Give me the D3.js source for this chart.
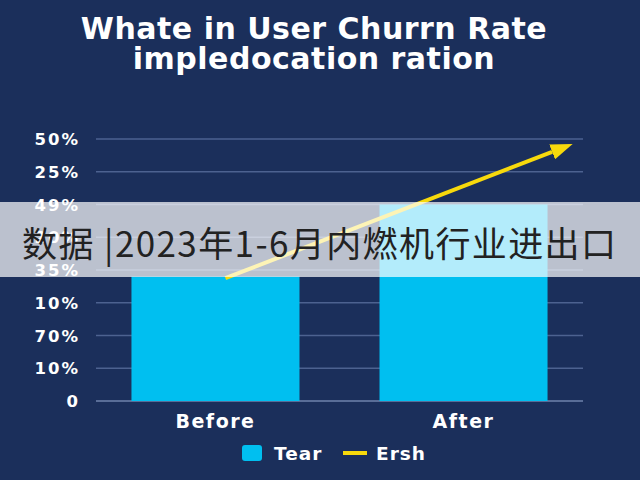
<!DOCTYPE html>
<html><head><meta charset="utf-8">
<script src="https://cdn.jsdelivr.net/npm/d3@7/dist/d3.min.js"></script>
<style>body{margin:0;background:#1b2f5b;}svg{display:block;}</style>
</head><body>
<svg id="c" width="640" height="480"></svg>
<script>
const titleLines = ["Whate in User Churrn Rate", "impledocation ration"];
const categories = ["Before", "After"];
const tearValues = [38, 60];
const tickValues = [0, 10, 20, 30, 40, 50, 60, 70, 80];
const tickLabels = ["0", "10%", "70%", "10%", "35%", "20%", "49%", "25%", "50%"];
const ershPos = [0.04, 1.44];
const ershValues = [37.5, 78.5];
const legendLabels = ["Tear", "Ersh"];
const bandText = "数据 |2023年1-6月内燃机行业进出口";

const svg = d3.select("#c");
const W = 640, H = 480;
svg.append("rect").attr("width", W).attr("height", H).attr("fill", "#1b2f5b");

const font = "'DejaVu Sans', sans-serif";
svg.selectAll("text.title").data(titleLines).enter().append("text")
  .attr("x", 314).attr("y", (d, i) => 39 + i * 30)
  .attr("text-anchor", "middle").attr("fill", "#fff")
  .attr("font-family", font).attr("font-weight", 700).attr("font-size", 30)
  .attr("letter-spacing", 0.5)
  .text(d => d);

const y = d3.scaleLinear().domain([0, 80]).range([401, 139]);
const x = d3.scaleBand().domain(categories).range([96, 583]).paddingInner(0.3226).paddingOuter(0.143);

// gridlines
svg.append("g").selectAll("line").data(tickValues).enter().append("line")
  .attr("x1", 96).attr("x2", 583)
  .attr("y1", d => y(d)).attr("y2", d => y(d))
  .attr("stroke", d => d === 0 ? "#6f83ab" : "#4d6290").attr("stroke-width", 1.3);

// y labels
svg.append("g").selectAll("text").data(tickValues).enter().append("text")
  .attr("x", 80).attr("y", d => y(d) + 6).attr("text-anchor", "end")
  .attr("fill", "#fff").attr("font-family", font).attr("font-weight", 700).attr("font-size", 16.5)
  .attr("letter-spacing", 2)
  .text((d, i) => tickLabels[i]);

// bars
svg.append("g").selectAll("rect").data(categories).enter().append("rect")
  .attr("x", d => x(d)).attr("width", x.bandwidth())
  .attr("y", (d, i) => y(tearValues[i])).attr("height", (d, i) => y(0) - y(tearValues[i]))
  .attr("fill", "#00bff0");

// x labels
svg.append("g").selectAll("text").data(categories).enter().append("text")
  .attr("x", d => x(d) + x.bandwidth() / 2).attr("y", 428)
  .attr("text-anchor", "middle").attr("fill", "#fff")
  .attr("font-family", font).attr("font-weight", 700).attr("font-size", 19)
  .attr("letter-spacing", 1.5)
  .text(d => d);

// ersh line with arrow
const xi = d3.scaleLinear().domain([0, 1]).range([x("Before") + x.bandwidth() / 2, x("After") + x.bandwidth() / 2]);
svg.append("defs").append("marker").attr("id", "arr")
  .attr("viewBox", "0 0 22 16").attr("refX", 0).attr("refY", 8)
  .attr("markerWidth", 22).attr("markerHeight", 16).attr("markerUnits", "userSpaceOnUse")
  .attr("orient", "auto")
  .append("path").attr("d", "M0,0 L22,8 L0,16 Z").attr("fill", "#f7d90c");
const pts = ershPos.map((p, i) => [xi(p), y(ershValues[i])]);
const dx = pts[1][0] - pts[0][0], dy = pts[1][1] - pts[0][1], len = Math.hypot(dx, dy);
const shorten = 22;
const endPt = [pts[1][0] - dx / len * shorten, pts[1][1] - dy / len * shorten];
svg.append("path").datum([pts[0], endPt])
  .attr("d", d3.line())
  .attr("stroke", "#f7d90c").attr("stroke-width", 4).attr("fill", "none")
  .attr("marker-end", "url(#arr)");

// legend
const lg = svg.append("g");
lg.append("rect").attr("x", 242).attr("y", 445).attr("width", 20).attr("height", 16).attr("rx", 3).attr("fill", "#00bff0");
lg.append("text").attr("x", 274).attr("y", 460).attr("fill", "#fff").attr("font-family", font)
  .attr("font-weight", 700).attr("font-size", 18.5).attr("letter-spacing", 1).text(legendLabels[0]);
lg.append("line").attr("x1", 343).attr("x2", 367).attr("y1", 453).attr("y2", 453)
  .attr("stroke", "#f7d90c").attr("stroke-width", 4);
lg.append("text").attr("x", 376).attr("y", 460).attr("fill", "#fff").attr("font-family", font)
  .attr("font-weight", 700).attr("font-size", 18.5).attr("letter-spacing", 1).text(legendLabels[1]);

// overlay band
svg.append("rect").attr("x", 0).attr("y", 202).attr("width", W).attr("height", 75)
  .attr("fill", "#fff").attr("fill-opacity", 0.7);
svg.append("text").attr("x", 22).attr("y", 257).attr("fill", "#222")
  .attr("font-family", "'Noto Sans CJK SC', sans-serif").attr("font-size", 35)
  .attr("letter-spacing", 1.4)
  .text(bandText);
</script>
</body></html>
